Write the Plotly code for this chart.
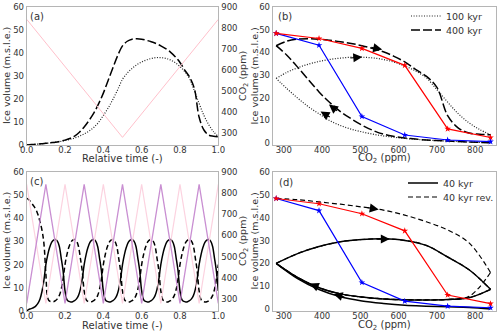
import numpy as np
import plotly.graph_objects as go

# ---- panel (a)/(b): one full CO2 cycle, sampled every 0.025 of relative time
t_a = [round(0.025 * i, 3) for i in range(41)]
co2_a = [840, 812, 784, 756, 728, 700, 672, 644, 616, 588, 560, 532, 504, 476, 448, 420,
         392, 364, 336, 308, 280, 308, 336, 364, 392, 420, 448, 476, 504, 532, 560, 588,
         616, 644, 672, 700, 728, 756, 784, 812, 840]
ice_100kyr = [0.0, 0.15, 0.3, 0.5, 0.7, 0.95, 1.2, 1.5, 1.9, 2.4, 3.0, 3.8, 4.8, 6.0, 7.6, 9.8,
              12.8, 16.0, 19.8, 24.0, 28.5, 31.2, 33.2, 34.8, 36.0, 36.9, 37.5, 37.9, 37.9, 37.6,
              36.9, 35.7, 34.0, 31.8, 28.8, 23.5, 18.0, 12.8, 8.8, 5.8, 3.6]
ice_400kyr = [0.0, 0.15, 0.3, 0.5, 0.7, 0.95, 1.2, 1.6, 2.1, 2.8, 3.8, 5.5, 7.8, 10.6, 13.8, 17.8,
              22.5, 28.0, 33.5, 38.8, 43.0, 45.0, 45.9, 46.1, 45.9, 45.4, 44.8, 44.0, 43.0, 41.8,
              40.3, 38.3, 35.8, 32.5, 29.5, 24.5, 12.0, 6.5, 4.3, 3.8, 3.5]
forcing_t = [0.0, 0.5, 1.0]
forcing_co2 = [840, 280, 840]

# equilibrium states (red: glaciation, blue: deglaciation)
co2_eq = [280, 392, 504, 616, 728, 840]
ice_red = [48.5, 46.2, 41.8, 34.3, 6.1, 2.3]
ice_blue = [48.5, 43.2, 11.6, 3.4, 1.2, 0.5]

# ---- panel (c)/(d): 40 kyr cycles, sampled every 0.01 of relative time
co2_up = [280, 336, 392, 448, 504, 560, 616, 672, 728, 784, 840]
co2_down = co2_up[::-1]
solid_spin = [0.0, 0.6, 0.9, 1.2, 1.6, 2.4, 3.5, 5.3, 8.5, 13.3, 20.0]
solid_up = [20.0, 24.3, 27.4, 29.5, 30.5, 30.8, 30.1, 27.9, 22.8, 17.2, 8.6]
solid_down = [8.6, 4.9, 4.1, 3.9, 4.0, 4.4, 5.2, 6.6, 9.3, 13.8, 20.0]
rev_spin = [48.5, 48.0, 47.0, 46.0, 44.8, 43.4, 41.2, 38.3, 34.7, 29.0, 16.0]
rev_first_down = [16.0, 5.5, 4.2, 4.0, 4.0, 4.4, 5.2, 6.6, 9.3, 13.8, 20.0]
tri_t = [0.0, 0.1, 0.2, 0.3, 0.4, 0.5, 0.6, 0.7, 0.8, 0.9, 1.0]
co2_pink = [840, 280, 840, 280, 840, 280, 840, 280, 840, 280, 840]
co2_purple = [280, 840, 280, 840, 280, 840, 280, 840, 280, 840, 280]

t_c = [round(0.01 * i, 2) for i in range(101)]
cycle = solid_up[1:] + solid_down[1:]
ice_40 = solid_spin + cycle * 4 + solid_up[1:]
ice_40rev = rev_spin + rev_first_down[1:] + cycle * 4

FONT = "DejaVu Sans"
TXT = "#333333"
FRAME = "#b5b5b5"
DOT = "1px,1.6px"
LDASH = "9px,3px"
SDASH = "5px,3px"
W, H = 500, 334

fig = go.Figure()

# (a)
fig.add_trace(go.Scatter(x=forcing_t, y=forcing_co2, xaxis="x", yaxis="y2", mode="lines",
                         line=dict(color="#ffc0cb", width=1), showlegend=False))
fig.add_trace(go.Scatter(x=t_a, y=ice_100kyr, xaxis="x", yaxis="y", mode="lines",
                         line=dict(color="#222", width=1.2, dash=DOT, shape="spline"), showlegend=False))
fig.add_trace(go.Scatter(x=t_a, y=ice_400kyr, xaxis="x", yaxis="y", mode="lines",
                         line=dict(color="black", width=1.5, dash=LDASH, shape="spline"), showlegend=False))

# (b)
for seg, show in ((slice(0, 21), True), (slice(20, 41), False)):
    fig.add_trace(go.Scatter(x=co2_a[seg], y=ice_100kyr[seg], xaxis="x2", yaxis="y3", mode="lines",
                             line=dict(color="#222", width=1.2, dash=DOT, shape="spline"),
                             name="100 kyr", showlegend=show, legend="legend"))
    fig.add_trace(go.Scatter(x=co2_a[seg], y=ice_400kyr[seg], xaxis="x2", yaxis="y3", mode="lines",
                             line=dict(color="black", width=1.5, dash=LDASH, shape="spline"),
                             name="400 kyr", showlegend=show, legend="legend2"))

# (c)
fig.add_trace(go.Scatter(x=tri_t, y=co2_pink, xaxis="x3", yaxis="y5", mode="lines",
                         line=dict(color="#fcd3e0", width=1.2), showlegend=False))
fig.add_trace(go.Scatter(x=tri_t, y=co2_purple, xaxis="x3", yaxis="y5", mode="lines",
                         line=dict(color="#c98fd2", width=1.3), showlegend=False))
fig.add_trace(go.Scatter(x=t_c, y=ice_40rev, xaxis="x3", yaxis="y4", mode="lines",
                         line=dict(color="black", width=1.5, dash=SDASH, shape="spline"), showlegend=False))
fig.add_trace(go.Scatter(x=t_c, y=ice_40, xaxis="x3", yaxis="y4", mode="lines",
                         line=dict(color="black", width=1.5, shape="spline"), showlegend=False))

# (d)
fig.add_trace(go.Scatter(x=co2_up + [None] + co2_down + [None] + co2_up + [None] + co2_down,
                         y=rev_spin + [None] + rev_first_down + [None] + solid_up + [None] + solid_down,
                         xaxis="x4", yaxis="y6", mode="lines",
                         line=dict(color="black", width=1.2, dash=SDASH, shape="spline"),
                         name="40 kyr rev.", legend="legend4"))
fig.add_trace(go.Scatter(x=co2_down + [None] + co2_up + [None] + co2_down,
                         y=solid_spin + [None] + solid_up + [None] + solid_down,
                         xaxis="x4", yaxis="y6", mode="lines",
                         line=dict(color="black", width=1.5, shape="spline"),
                         name="40 kyr", legend="legend3"))

# equilibrium lines on (b) and (d)
for xa, ya in (("x2", "y3"), ("x4", "y6")):
    fig.add_trace(go.Scatter(x=co2_eq, y=ice_blue, xaxis=xa, yaxis=ya, mode="lines+markers",
                             line=dict(color="blue", width=1.2),
                             marker=dict(symbol="star", size=5, color="blue"), showlegend=False))
    fig.add_trace(go.Scatter(x=co2_eq, y=ice_red, xaxis=xa, yaxis=ya, mode="lines+markers",
                             line=dict(color="red", width=1.2),
                             marker=dict(symbol="star", size=5, color="red"), showlegend=False))

# arrows (head, tail) along the curves
arrows_b = [((505, 38.0), (470, 37.5)), ((557, 41.3), (525, 42.4)),
            ((418, 16.9), (443, 13.6)), ((396, 13.8), (424, 11.0))]
arrows_d = [((548, 43.7), (515, 44.6)), ((577, 30.7), (540, 30.7)),
            ((368, 11.2), (398, 9.0)), ((430, 6.6), (462, 5.0))]
annotations = []
for (xa, ya), arrows in ((("x2", "y3"), arrows_b), (("x4", "y6"), arrows_d)):
    for (hx, hy), (tx, ty) in arrows:
        annotations.append(dict(x=hx, y=hy, ax=tx, ay=ty, xref=xa, yref=ya, axref=xa, ayref=ya,
                                text="", showarrow=True, arrowhead=2, arrowsize=1.5,
                                arrowwidth=1.2, arrowcolor="black", standoff=0))

def label(text, px, py, size=10, angle=0, anchor="center"):
    # text placed by pixel position of its centre
    annotations.append(dict(text=text, x=px / W, y=1 - py / H, xref="paper", yref="paper",
                            xanchor=anchor, yanchor="middle", textangle=angle, showarrow=False,
                            borderpad=0, font=dict(size=size, color=TXT, family=FONT)))

label("(a)", 29, 16, anchor="left")
label("(b)", 277, 16.5, anchor="left")
label("(c)", 29, 181, anchor="left")
label("(d)", 278, 182.5, anchor="left")
ice_title = "Ice volume (m.s.l.e.)"
co2_title = "CO<sub>2</sub> (ppm)"
for yc in (76, 241):
    label(ice_title, 6, yc, size=9.5, angle=-90)
    label(co2_title, 243, yc, size=9.5, angle=-90)
    label(ice_title, 253.5, yc, size=9.5, angle=-90)
label("Relative time (-)", 122.5, 158.5)
label(co2_title, 384, 158.5)
label("Relative time (-)", 122.5, 325)
label(co2_title, 384, 325)

axis_common = dict(showline=True, linecolor=FRAME, linewidth=1, mirror=True, ticks="",
                   showgrid=False, zeroline=False, automargin=False,
                   tickfont=dict(size=8.5, color=TXT, family=FONT))
xtick = dict(ticklabelstandoff=-3)

dom_left = [0.0534, 0.4366]
dom_right = [0.5454, 0.991]
dom_top = [0.566, 0.980]
dom_bot = [0.069, 0.486]
time_ticks = [0, 0.2, 0.4, 0.6, 0.8, 1.0]
co2_ticks = [300, 400, 500, 600, 700, 800]
ice_ticks = [0, 10, 20, 30, 40, 50, 60]
right_ticks = [300, 400, 500, 600, 700, 800, 900]

def right_axis(over):
    return dict(overlaying=over, side="right", anchor="x" if over == "y" else "x3",
                range=[244, 900], tickvals=right_ticks, showline=False, ticks="",
                ticklabelstandoff=2, showgrid=False, zeroline=False, automargin=False,
                tickfont=dict(size=8.5, color=TXT, family=FONT))

fig.update_layout(
    width=W, height=H,
    margin=dict(l=0, r=0, t=0, b=0, autoexpand=False),
    plot_bgcolor="white", paper_bgcolor="white",
    font=dict(family=FONT, color=TXT),
    xaxis=dict(axis_common, **xtick, domain=dom_left, anchor="y", range=[0, 1], tickvals=time_ticks, tickformat=".1f"),
    yaxis=dict(axis_common, domain=dom_top, anchor="x", range=[0, 60], tickvals=ice_ticks),
    yaxis2=right_axis("y"),
    xaxis2=dict(axis_common, **xtick, domain=dom_right, anchor="y3", range=[271, 853], tickvals=co2_ticks),
    yaxis3=dict(axis_common, domain=dom_top, anchor="x2", range=[-1, 60.3], tickvals=ice_ticks),
    xaxis3=dict(axis_common, **xtick, domain=dom_left, anchor="y4", range=[0, 1], tickvals=time_ticks, tickformat=".1f"),
    yaxis4=dict(axis_common, domain=dom_bot, anchor="x3", range=[0, 60], tickvals=ice_ticks),
    yaxis5=right_axis("y4"),
    xaxis4=dict(axis_common, **xtick, domain=dom_right, anchor="y6", range=[271, 853], tickvals=co2_ticks),
    yaxis6=dict(axis_common, domain=dom_bot, anchor="x4", range=[-0.9, 60.3], tickvals=ice_ticks),
    annotations=annotations,
)

legend_style = dict(xanchor="left", yanchor="middle", bgcolor="rgba(0,0,0,0)",
                    font=dict(size=9.5, color=TXT, family=FONT), borderwidth=0)
fig.update_layout(
    legend=dict(legend_style, x=0.812, y=1 - 16 / H),
    legend2=dict(legend_style, x=0.812, y=1 - 30 / H),
    legend3=dict(legend_style, x=0.806, y=1 - 183 / H),
    legend4=dict(legend_style, x=0.806, y=1 - 197 / H),
)

fig.write_html("out.html", config={"displayModeBar": False},
               post_script="document.body.style.margin='0';document.body.style.overflow='hidden';")
